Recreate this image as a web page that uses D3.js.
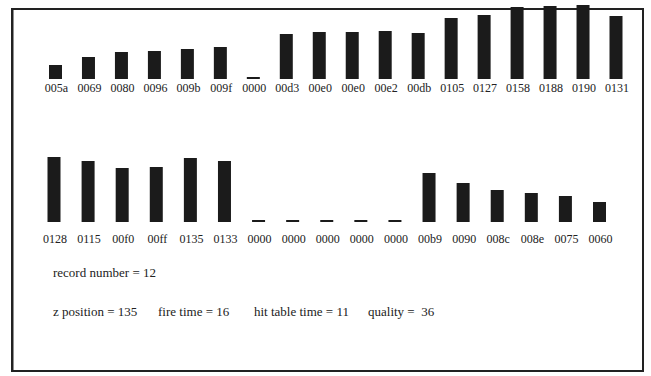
<!DOCTYPE html>
<html>
<head>
<meta charset="utf-8">
<script src="https://cdn.jsdelivr.net/npm/d3@7"></script>
<style>
  html, body { margin: 0; padding: 0; background: #fff; }
  svg { display: block; }
</style>
</head>
<body>
<svg id="chart"></svg>
<script>
// hex words shown under each bar, and the bar heights
const row1Labels = ['005a', '0069', '0080', '0096', '009b', '009f', '0000', '00d3', '00e0',
    '00e0', '00e2', '00db', '0105', '0127', '0158', '0188', '0190', '0131'];
const row1Heights = [14, 22, 27, 28, 30, 32, 2, 45, 47, 47, 48, 46, 61, 64, 72, 73, 74, 63];

const row2Labels = ['0128', '0115', '00f0', '00ff', '0135', '0133', '0000', '0000', '0000',
    '0000', '0000', '00b9', '0090', '008c', '008e', '0075', '0060'];
const row2Heights = [65, 61, 54, 55, 64, 61, 2, 2, 2, 2, 2, 49, 39, 32, 29, 26, 20];

const infoLine1 = ['record number = 12'];
const infoLine2 = ['z position = 135', 'fire time = 16', 'hit table time = 11', 'quality =  36'];

const svgWidth = 651,
    svgHeight = 376,
    barColor = '#1b1b1b',
    barWidth = 13,
    fontName = '"Liberation Serif", "Times New Roman", "DejaVu Serif", serif',
    textColor = '#222',
    labelSize = 12,
    infoSize = 13;

const svg = d3.select('svg#chart')
    .attr('width', svgWidth)
    .attr('height', svgHeight);

// frame
svg.append('rect')
    .attr('x', 12)
    .attr('y', 9)
    .attr('width', 631)
    .attr('height', 362)
    .attr('fill', 'none')
    .attr('stroke', '#222')
    .attr('stroke-width', 2);
svg.append('line')
    .attr('x1', 12.5).attr('x2', 12.5)
    .attr('y1', 8).attr('y2', 372)
    .attr('stroke', '#222')
    .attr('stroke-width', 2);

// same height scale for both rows, one pixel per unit
const yScale = d3.scaleLinear().domain([0, 80]).range([0, 80]);

drawRow(row1Labels, row1Heights, [55.5, 616], 79, 92);
drawRow(row2Labels, row2Heights, [54, 599.5], 222, 243);

/**
 * Draw one row of bars with hex labels under them
 */
function drawRow(labels, heights, xRange, baseY, labelY) {
    const idx = d3.range(labels.length);
    const x = d3.scalePoint().domain(idx).range(xRange);

    svg.append('g')
        .selectAll('rect')
        .data(idx)
        .join('rect')
        .attr('x', i => x(i) - barWidth / 2)
        .attr('y', i => baseY - yScale(heights[i]))
        .attr('width', barWidth)
        .attr('height', i => yScale(heights[i]))
        .attr('fill', barColor);

    svg.append('g')
        .selectAll('text')
        .data(idx)
        .join('text')
        .attr('x', i => x(i) + 1)
        .attr('y', labelY)
        .attr('text-anchor', 'middle')
        .attr('font-family', fontName)
        .attr('font-size', labelSize)
        .attr('fill', textColor)
        .text(i => labels[i]);
}

// record info lines
svg.append('text')
    .attr('x', 53)
    .attr('y', 277)
    .attr('font-family', fontName)
    .attr('font-size', infoSize)
    .attr('fill', textColor)
    .text(infoLine1[0]);

const infoX = d3.scaleOrdinal().domain(infoLine2).range([53, 158, 254, 368]);
svg.append('g')
    .selectAll('text')
    .data(infoLine2)
    .join('text')
    .attr('x', d => infoX(d))
    .attr('y', 316)
    .attr('font-family', fontName)
    .attr('font-size', infoSize)
    .attr('fill', textColor)
    .style('white-space', 'pre')
    .text(d => d);
</script>
</body>
</html>
